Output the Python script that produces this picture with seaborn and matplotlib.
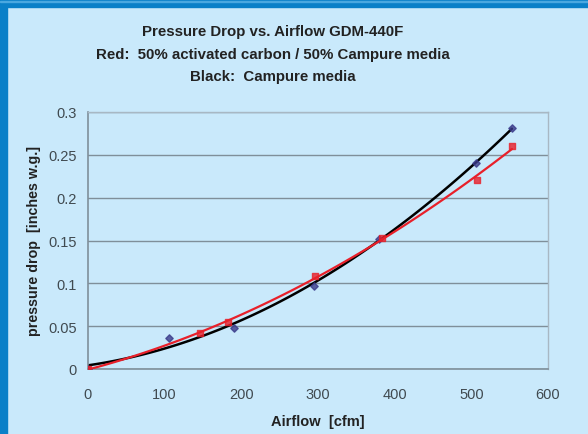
import numpy as np
import pandas as pd
import matplotlib
matplotlib.use("Agg")
import matplotlib.pyplot as plt
import seaborn as sns

# Campure media (black)
black_cfm = [0, 105, 190, 295, 380, 506, 553]
black_dp = [0.0, 0.036, 0.048, 0.097, 0.152, 0.241, 0.281]

# 50% activated carbon / 50% Campure media (red)
red_cfm = [0, 146, 183, 296, 383, 508, 553]
red_dp = [0.0, 0.042, 0.055, 0.108, 0.153, 0.221, 0.260]

x_ticks = [0, 100, 200, 300, 400, 500, 600]
y_ticks = [0, 0.05, 0.1, 0.15, 0.2, 0.25, 0.3]
y_tick_labels = ["0", "0.05", "0.1", "0.15", "0.2", "0.25", "0.3"]

black_df = pd.DataFrame({"cfm": black_cfm, "dp": black_dp})
red_df = pd.DataFrame({"cfm": red_cfm, "dp": red_dp})

sns.set_theme(style="white")
plt.rcParams["font.family"] = ["Liberation Sans", "DejaVu Sans"]

bg = "#c9e9fb"
fig = plt.figure(figsize=(5.88, 4.35), dpi=100, facecolor=bg)
ax = fig.add_axes([88 / 588, 1 - 370 / 435, 460 / 588, 257 / 435])
ax.set_facecolor(bg)

# blue frame top and left
fig.patches.append(plt.Rectangle((0, 1 - 8 / 435), 1, 8 / 435, transform=fig.transFigure,
                                 color="#0a80c8", zorder=0))
fig.patches.append(plt.Rectangle((0, 0), 7 / 588, 1, transform=fig.transFigure,
                                 color="#0a80c8", zorder=0))
fig.patches.append(plt.Rectangle((0, 1 - 3 / 435), 1, 1 / 435, transform=fig.transFigure,
                                 color="#4aa8e0", zorder=1))

sns.regplot(data=black_df, x="cfm", y="dp", order=2, ci=None, ax=ax,
            marker="D", scatter_kws={"color": "#3a3a8a", "s": 14, "zorder": 3},
            line_kws={"color": "black", "lw": 1.8, "zorder": 2})
sns.regplot(data=red_df, x="cfm", y="dp", order=2, ci=None, ax=ax,
            marker="s", scatter_kws={"color": "#e8202a", "s": 22, "zorder": 4},
            line_kws={"color": "#e8202a", "lw": 1.6, "zorder": 3})

ax.set_xlim(0, 600)
ax.set_ylim(0, 0.3)
ax.set_xticks(x_ticks)
ax.set_yticks(y_ticks)
ax.set_yticklabels(y_tick_labels)
ax.yaxis.grid(True, color="#7f8f9a", lw=1.0)
ax.set_axisbelow(True)

for side in ["left", "bottom"]:
    ax.spines[side].set_color("#7f8f9a")
    ax.spines[side].set_linewidth(1.2)
for side in ["top", "right"]:
    ax.spines[side].set_color("#a8b8c4")
    ax.spines[side].set_linewidth(1.0)

ax.tick_params(axis="both", direction="out", length=4, width=1, color="#7f8f9a",
               labelsize=10.5, labelcolor="#404a50", pad=4)
ax.tick_params(axis="x", pad=9)

ax.set_xlabel("Airflow  [cfm]", fontsize=10.5, fontweight="bold", color="#222222", labelpad=9)
ax.set_ylabel("pressure drop  [inches w.g.]", fontsize=10.3, fontweight="bold",
              color="#222222", labelpad=5)

title_lines = ["Pressure Drop vs. Airflow GDM-440F",
               "Red:  50% activated carbon / 50% Campure media",
               "Black:  Campure media"]
for i, line in enumerate(title_lines):
    fig.text(273 / 588, 1 - (32 + 22.5 * i) / 435, line, ha="center", va="center",
             fontsize=10.8, fontweight="bold", color="#222222")

fig.savefig("out.png", dpi=100, facecolor=bg)
